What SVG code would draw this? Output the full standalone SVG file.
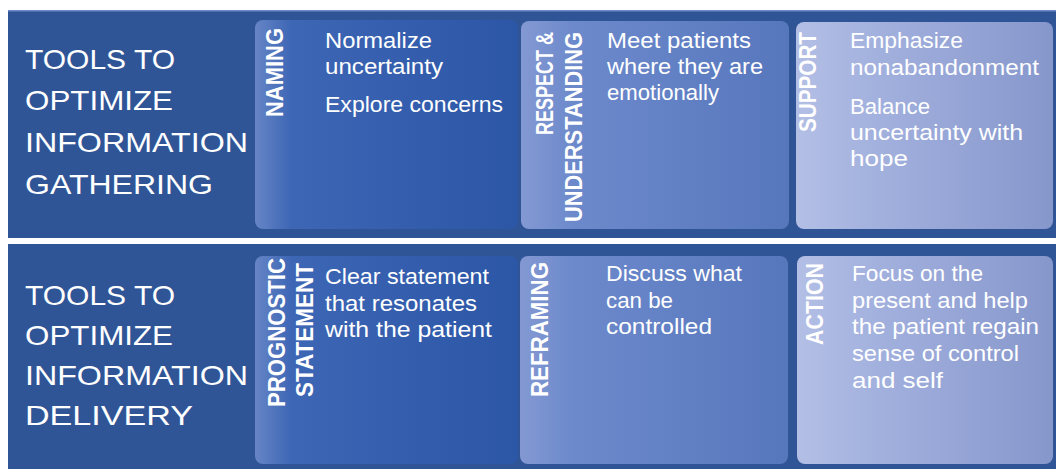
<svg xmlns="http://www.w3.org/2000/svg" width="1056" height="469" viewBox="0 0 1056 469">
<defs>
<linearGradient id="g1" x1="0" y1="0" x2="1" y2="0">
<stop offset="0" stop-color="#6685C5"/><stop offset="0.14" stop-color="#3D66B5"/><stop offset="1" stop-color="#2C56A6"/>
</linearGradient>
<linearGradient id="g2" x1="0" y1="0" x2="1" y2="0">
<stop offset="0" stop-color="#8499D3"/><stop offset="0.2" stop-color="#6C89CB"/><stop offset="1" stop-color="#5777BD"/>
</linearGradient>
<linearGradient id="g3" x1="0" y1="0" x2="1" y2="0">
<stop offset="0" stop-color="#B3BFE5"/><stop offset="0.3" stop-color="#A3B1DE"/><stop offset="1" stop-color="#8697CC"/>
</linearGradient>
</defs>
<style>
.band{fill:#2F5597;}
.hdr{font-family:"Liberation Sans",Arial,sans-serif;font-size:28px;fill:#FFFFFF;}
.lbl{font-family:"Liberation Sans",Arial,sans-serif;font-size:23px;font-weight:bold;fill:#FFFFFF;}
.body{font-family:"Liberation Sans",Arial,sans-serif;font-size:22px;fill:#FFFFFF;}
.c1{fill:url(#g1);}
.c2{fill:url(#g2);}
.c3{fill:url(#g3);}
</style>
<rect width="1056" height="469" fill="#FFFFFF"/>
<g id="row-gathering">
<rect class="band" x="8" y="10" width="1048" height="228"/>
<rect x="8" y="10" width="1048" height="1.5" fill="#6F8CC8"/>
<text class="hdr">
<tspan x="25" y="69" textLength="150" lengthAdjust="spacingAndGlyphs">TOOLS TO</tspan>
<tspan x="25" y="110" textLength="148" lengthAdjust="spacingAndGlyphs">OPTIMIZE</tspan>
<tspan x="25" y="152" textLength="223" lengthAdjust="spacingAndGlyphs">INFORMATION</tspan>
<tspan x="25" y="194" textLength="188" lengthAdjust="spacingAndGlyphs">GATHERING</tspan>
</text>
</g>
<g id="row-delivery">
<rect class="band" x="8" y="244" width="1048" height="225"/>
<text class="hdr">
<tspan x="25" y="305" textLength="150" lengthAdjust="spacingAndGlyphs">TOOLS TO</tspan>
<tspan x="25" y="345" textLength="148" lengthAdjust="spacingAndGlyphs">OPTIMIZE</tspan>
<tspan x="25" y="385" textLength="223" lengthAdjust="spacingAndGlyphs">INFORMATION</tspan>
<tspan x="25" y="425" textLength="168" lengthAdjust="spacingAndGlyphs">DELIVERY</tspan>
</text>
</g>
<g id="naming">
<rect class="c1" x="255" y="20" width="263" height="209" rx="8"/>
<text class="lbl" transform="translate(283,117) rotate(-90)" textLength="89" lengthAdjust="spacingAndGlyphs">NAMING</text>
<text class="body">
<tspan x="325" y="48" textLength="107" lengthAdjust="spacingAndGlyphs">Normalize</tspan>
<tspan x="325" y="74" textLength="118" lengthAdjust="spacingAndGlyphs">uncertainty</tspan>
<tspan x="325" y="112" textLength="178" lengthAdjust="spacingAndGlyphs">Explore concerns</tspan>
</text>
</g>
<g id="respect">
<rect class="c2" x="521" y="21" width="268" height="208" rx="8"/>
<text class="lbl" transform="translate(553,135) rotate(-90)" textLength="103" lengthAdjust="spacingAndGlyphs">RESPECT &amp;</text>
<text class="lbl" transform="translate(582,222) rotate(-90)" textLength="190" lengthAdjust="spacingAndGlyphs">UNDERSTANDING</text>
<text class="body">
<tspan x="607" y="48" textLength="144" lengthAdjust="spacingAndGlyphs">Meet patients</tspan>
<tspan x="607" y="74" textLength="156" lengthAdjust="spacingAndGlyphs">where they are</tspan>
<tspan x="607" y="100" textLength="112" lengthAdjust="spacingAndGlyphs">emotionally</tspan>
</text>
</g>
<g id="support">
<rect class="c3" x="796" y="22" width="257" height="207" rx="8"/>
<text class="lbl" transform="translate(816,132) rotate(-90)" textLength="100" lengthAdjust="spacingAndGlyphs">SUPPORT</text>
<text class="body">
<tspan x="850" y="48" textLength="113" lengthAdjust="spacingAndGlyphs">Emphasize</tspan>
<tspan x="850" y="75" textLength="189" lengthAdjust="spacingAndGlyphs">nonabandonment</tspan>
<tspan x="850" y="114" textLength="80" lengthAdjust="spacingAndGlyphs">Balance</tspan>
<tspan x="850" y="140" textLength="173" lengthAdjust="spacingAndGlyphs">uncertainty with</tspan>
<tspan x="850" y="166" textLength="58" lengthAdjust="spacingAndGlyphs">hope</tspan>
</text>
</g>
<g id="prognostic">
<rect class="c1" x="255" y="256" width="263" height="208" rx="8"/>
<text class="lbl" transform="translate(285,407) rotate(-90)" textLength="149" lengthAdjust="spacingAndGlyphs">PROGNOSTIC</text>
<text class="lbl" transform="translate(313,397) rotate(-90)" textLength="134" lengthAdjust="spacingAndGlyphs">STATEMENT</text>
<text class="body">
<tspan x="325" y="284" textLength="164" lengthAdjust="spacingAndGlyphs">Clear statement</tspan>
<tspan x="325" y="311" textLength="152" lengthAdjust="spacingAndGlyphs">that resonates</tspan>
<tspan x="325" y="337" textLength="167" lengthAdjust="spacingAndGlyphs">with the patient</tspan>
</text>
</g>
<g id="reframing">
<rect class="c2" x="520" y="256" width="268" height="208" rx="8"/>
<text class="lbl" transform="translate(548,397) rotate(-90)" textLength="135" lengthAdjust="spacingAndGlyphs">REFRAMING</text>
<text class="body">
<tspan x="606" y="281" textLength="136" lengthAdjust="spacingAndGlyphs">Discuss what</tspan>
<tspan x="606" y="308" textLength="67" lengthAdjust="spacingAndGlyphs">can be</tspan>
<tspan x="606" y="334" textLength="106" lengthAdjust="spacingAndGlyphs">controlled</tspan>
</text>
</g>
<g id="action">
<rect class="c3" x="797" y="256" width="256" height="208" rx="8"/>
<text class="lbl" transform="translate(823,345) rotate(-90)" textLength="82" lengthAdjust="spacingAndGlyphs">ACTION</text>
<text class="body">
<tspan x="852" y="281" textLength="131" lengthAdjust="spacingAndGlyphs">Focus on the</tspan>
<tspan x="852" y="308" textLength="176" lengthAdjust="spacingAndGlyphs">present and help</tspan>
<tspan x="852" y="334" textLength="187" lengthAdjust="spacingAndGlyphs">the patient regain</tspan>
<tspan x="852" y="361" textLength="167" lengthAdjust="spacingAndGlyphs">sense of control</tspan>
<tspan x="852" y="388" textLength="91" lengthAdjust="spacingAndGlyphs">and self</tspan>
</text>
</g>
<g id="connectors"/>
</svg>
